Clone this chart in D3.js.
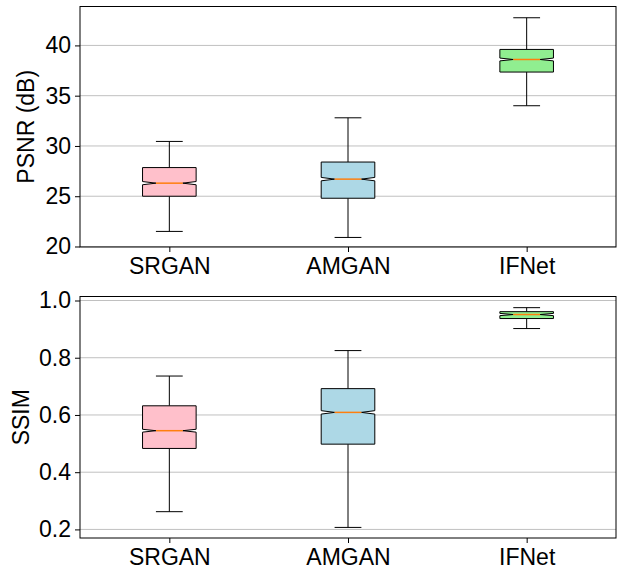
<!DOCTYPE html>
<html lang="en">
<head>
<meta charset="utf-8">
<title>PSNR / SSIM box plots</title>
<script src="https://d3js.org/d3.v7.min.js"></script>
<style>
  body { margin: 0; background: #fff; }
  text { font-family: "Liberation Sans", Arial, sans-serif; fill: #000; }
</style>
</head>
<body>
<svg width="622" height="570"></svg>
<script>
// categories
const models = ["SRGAN", "AMGAN", "IFNet"];
const fills = ["#ffc0cb", "#add8e6", "#90ee90"];

// PSNR (dB) box stats
const psnrLow  = [21.5, 20.9, 34.0];
const psnrQ1   = [25.0, 24.8, 37.35];
const psnrMed  = [26.3, 26.7, 38.6];
const psnrQ3   = [27.85, 28.4, 39.6];
const psnrHigh = [30.45, 32.8, 42.75];
const psnrNotch = [0.16, 0.17, 0.14];
const psnrTicks = [20, 25, 30, 35, 40];

// SSIM box stats
const ssimLow  = [0.262, 0.207, 0.902];
const ssimQ1   = [0.483, 0.498, 0.937];
const ssimMed  = [0.545, 0.609, 0.951];
const ssimQ3   = [0.632, 0.692, 0.961];
const ssimHigh = [0.736, 0.825, 0.975];
const ssimNotch = [0.005, 0.006, 0.004];
const ssimTicks = [0.2, 0.4, 0.6, 0.8, 1.0];

const svg = d3.select("svg");
const left = 80, right = 616;
const fontSize = "23px";

function panel(opt) {
    let g = svg.append("g");
    let x = d3.scalePoint().domain(models).range([left, right]).padding(0.5);
    let y = d3.scaleLinear().domain(opt.domain).range([opt.bottom, opt.top]);
    let bw = x.step() * 0.3;

    // grid
    g.append("g").selectAll("line").data(opt.ticks).join("line")
        .attr("x1", left).attr("x2", right)
        .attr("y1", d => y(d)).attr("y2", d => y(d))
        .attr("stroke", "#c0c0c0").attr("stroke-width", 1);

    let data = models.map((m, i) => ({
        m: m, fill: fills[i],
        lo: opt.low[i], q1: opt.q1[i], med: opt.med[i], q3: opt.q3[i], hi: opt.high[i], n: opt.notch[i]
    }));

    let b = g.append("g").selectAll("g").data(data).join("g");

    // whiskers
    b.append("line")
        .attr("x1", d => x(d.m)).attr("x2", d => x(d.m))
        .attr("y1", d => y(d.q1)).attr("y2", d => y(d.lo))
        .attr("stroke", "#000");
    b.append("line")
        .attr("x1", d => x(d.m)).attr("x2", d => x(d.m))
        .attr("y1", d => y(d.q3)).attr("y2", d => y(d.hi))
        .attr("stroke", "#000");
    // caps
    ["lo", "hi"].forEach(k => {
        b.append("line")
            .attr("x1", d => x(d.m) - bw / 4).attr("x2", d => x(d.m) + bw / 4)
            .attr("y1", d => y(d[k])).attr("y2", d => y(d[k]))
            .attr("stroke", "#000");
    });

    // notched box
    b.append("path")
        .attr("fill", d => d.fill)
        .attr("stroke", "#000")
        .attr("stroke-width", 1)
        .attr("d", d => {
            let cx = x(d.m), l = cx - bw / 2, r = cx + bw / 2;
            let il = cx - bw / 4, ir = cx + bw / 4;
            let p = d3.path();
            p.moveTo(l, y(d.q1));
            p.lineTo(r, y(d.q1));
            p.lineTo(r, y(d.med - d.n));
            p.lineTo(ir, y(d.med));
            p.lineTo(r, y(d.med + d.n));
            p.lineTo(r, y(d.q3));
            p.lineTo(l, y(d.q3));
            p.lineTo(l, y(d.med + d.n));
            p.lineTo(il, y(d.med));
            p.lineTo(l, y(d.med - d.n));
            p.closePath();
            return p.toString();
        });

    // median
    b.append("line")
        .attr("x1", d => x(d.m) - bw / 4).attr("x2", d => x(d.m) + bw / 4)
        .attr("y1", d => y(d.med)).attr("y2", d => y(d.med))
        .attr("stroke", "#ff7f0e").attr("stroke-width", 1.5);

    // axes
    let ya = g.append("g")
        .attr("transform", "translate(" + left + ",0)")
        .call(d3.axisLeft(y).tickValues(opt.ticks).tickFormat(opt.fmt).tickSize(5).tickPadding(4));
    let xa = g.append("g")
        .attr("transform", "translate(0," + opt.bottom + ")")
        .call(d3.axisBottom(x).tickSize(5).tickPadding(6));
    [ya, xa].forEach(a => {
        a.select(".domain").remove();
        a.selectAll("text").style("font-size", fontSize).style("font-family", "'Liberation Sans', Arial, sans-serif").attr("fill", "#000");
        a.selectAll("line").attr("stroke", "#000");
    });

    // frame
    g.append("rect")
        .attr("x", left).attr("y", opt.top)
        .attr("width", right - left).attr("height", opt.bottom - opt.top)
        .attr("fill", "none").attr("stroke", "#000").attr("stroke-width", 1);

    // y label
    g.append("text")
        .attr("transform", "translate(" + opt.labelX + "," + (opt.top + opt.bottom) / 2 + ") rotate(-90)")
        .attr("text-anchor", "middle")
        .style("font-size", fontSize)
        .text(opt.label);
}

panel({
    top: 6.5, bottom: 247, domain: [19.95, 43.87], ticks: psnrTicks, fmt: d3.format("d"),
    low: psnrLow, q1: psnrQ1, med: psnrMed, q3: psnrQ3, high: psnrHigh, notch: psnrNotch,
    label: "PSNR (dB)", labelX: 34
});

panel({
    top: 296.5, bottom: 538, domain: [0.170, 1.014], ticks: ssimTicks, fmt: d3.format(".1f"),
    low: ssimLow, q1: ssimQ1, med: ssimMed, q3: ssimQ3, high: ssimHigh, notch: ssimNotch,
    label: "SSIM", labelX: 29
});
</script>
</body>
</html>
